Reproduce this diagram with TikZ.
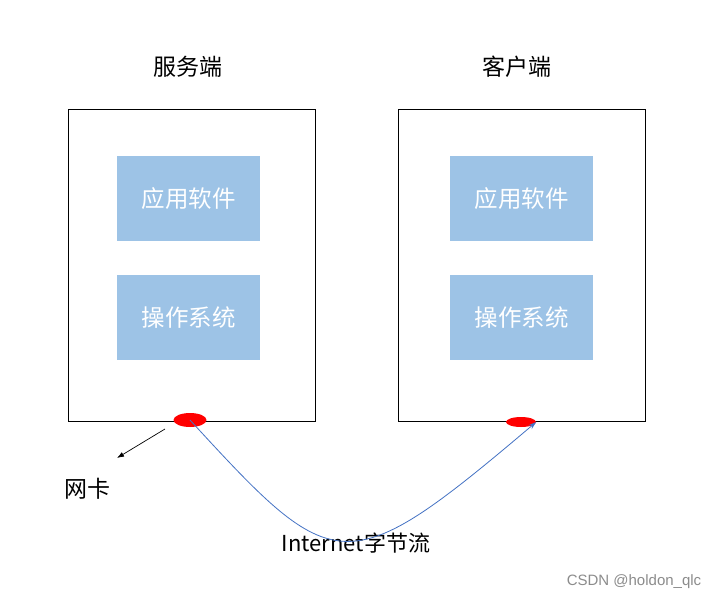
\documentclass[tikz,border=0pt]{standalone}
\usepackage{fontspec}
\setmainfont{Noto Sans CJK SC}
\newfontfamily\markfont{Liberation Sans}
\usetikzlibrary{shapes.geometric,arrows.meta,positioning,calc}
\definecolor{boxblue}{HTML}{9DC3E6}
\definecolor{linkblue}{HTML}{4472C4}

\begin{document}
\begin{tikzpicture}[x=1pt, y=-1pt,
        frame/.style={rectangle, draw, line width=0.8pt, minimum width=247pt, minimum height=312pt},
        layer/.style={rectangle, fill=boxblue, text=white, minimum width=143pt, minimum height=85pt, font=\fontsize{23.5}{28}\selectfont},
        nic/.style={ellipse, fill=red, inner sep=0pt},
        title/.style={font=\fontsize{23}{27}\selectfont}]
        \fill[white] (0,0) rectangle (718,600);

        % server side
        \node[frame] (server) at (191.5,265) {};
        \node[title] (servername) at (188,67) {服务端};
        \node[layer] (sapp) at (188.5,198.5) {应用软件};
        \node[layer] (sos) at (188.5,317.5) {操作系统};
        \node[nic, minimum width=33pt, minimum height=14pt] (snic) at (190,420) {};

        % client side
        \node[frame] (client) at (521.5,265) {};
        \node[title] (clientname) at (517,67) {客户端};
        \node[layer] (capp) at (521.5,198.5) {应用软件};
        \node[layer] (cos) at (521.5,317.5) {操作系统};
        \node[nic, minimum width=30pt, minimum height=10pt] (cnic) at (521,422) {};

        % labels
        \node[title] (niclabel) at (87,489) {网卡};
        \node[font=\fontsize{22}{26}\selectfont] (stream) at (356,543) {Internet字节流};
        \node[font=\markfont\fontsize{15}{17}\selectfont, text=black!45] (mark) at (634,582) {CSDN @holdon\_qlc};

        \coordinate (nicfrom) at (165,429);
        \coordinate (nicto) at (117,458);
        \draw[-{Latex[length=7pt,width=5pt]}, line width=0.7pt] (nicfrom) -- (nicto);
        \draw[-{Stealth[length=8pt,width=5pt]}, linkblue, line width=0.8pt]
            (snic.center) .. controls (335,578) and (345,584) .. (cnic.east);
    \end{tikzpicture}
\end{document}
